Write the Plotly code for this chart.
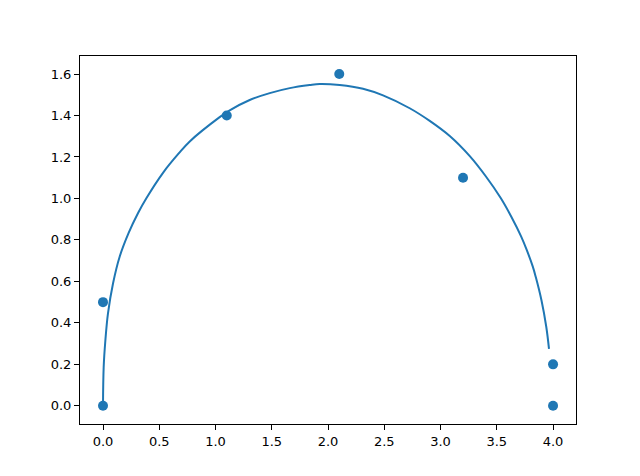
import plotly.graph_objects as go

# Scatter data points
pts_x = [0.0, 0.0, 1.1, 2.1, 3.2, 4.0, 4.0]
pts_y = [0.0, 0.5, 1.4, 1.6, 1.1, 0.2, 0.0]

# Fitted curve
curve_x = [0.0, 0.006, 0.021, 0.044, 0.089, 0.148, 0.228, 0.313, 0.384, 0.535, 0.673,
           0.771, 1.037, 1.126, 1.304, 1.482, 1.660, 1.837, 1.926, 2.104, 2.311, 2.489,
           2.726, 2.904, 3.082, 3.260, 3.402, 3.535, 3.628, 3.717, 3.766, 3.820, 3.846,
           3.897, 3.940, 3.964]
curve_y = [0.0, 0.186, 0.315, 0.445, 0.590, 0.719, 0.834, 0.931, 1.000, 1.125, 1.217,
           1.275, 1.392, 1.425, 1.475, 1.508, 1.532, 1.547, 1.552, 1.547, 1.529, 1.497,
           1.435, 1.374, 1.301, 1.204, 1.107, 1.002, 0.913, 0.816, 0.752, 0.671, 0.622,
           0.509, 0.380, 0.275]

xticks = [0.0, 0.5, 1.0, 1.5, 2.0, 2.5, 3.0, 3.5, 4.0]
yticks = [0.0, 0.2, 0.4, 0.6, 0.8, 1.0, 1.2, 1.4, 1.6]

blue = "#1f77b4"

fig = go.Figure()
fig.add_trace(go.Scatter(x=pts_x, y=pts_y, mode="markers",
                         marker=dict(color=blue, size=10, line=dict(width=0)),
                         showlegend=False))
fig.add_trace(go.Scatter(x=curve_x, y=curve_y, mode="lines",
                         line=dict(color=blue, width=2, shape="spline", smoothing=1.0),
                         showlegend=False))

axis_common = dict(showline=True, linecolor="black", linewidth=1, mirror=True,
                   ticks="outside", ticklen=5, tickwidth=1, tickcolor="black",
                   showgrid=False, zeroline=False,
                   tickfont=dict(family="DejaVu Sans", size=13, color="black"))

fig.update_layout(
    width=640, height=476,
    margin=dict(l=72, r=72, t=48, b=60),
    paper_bgcolor="white", plot_bgcolor="white",
    xaxis=dict(range=[-0.2044, 4.204], tickvals=xticks,
               ticktext=[f"{v:.1f}" for v in xticks], **axis_common),
    yaxis=dict(range=[-0.0877, 1.687], tickvals=yticks,
               ticktext=[f"{v:.1f}" for v in yticks], **axis_common),
)

fig.write_html("out.html")
